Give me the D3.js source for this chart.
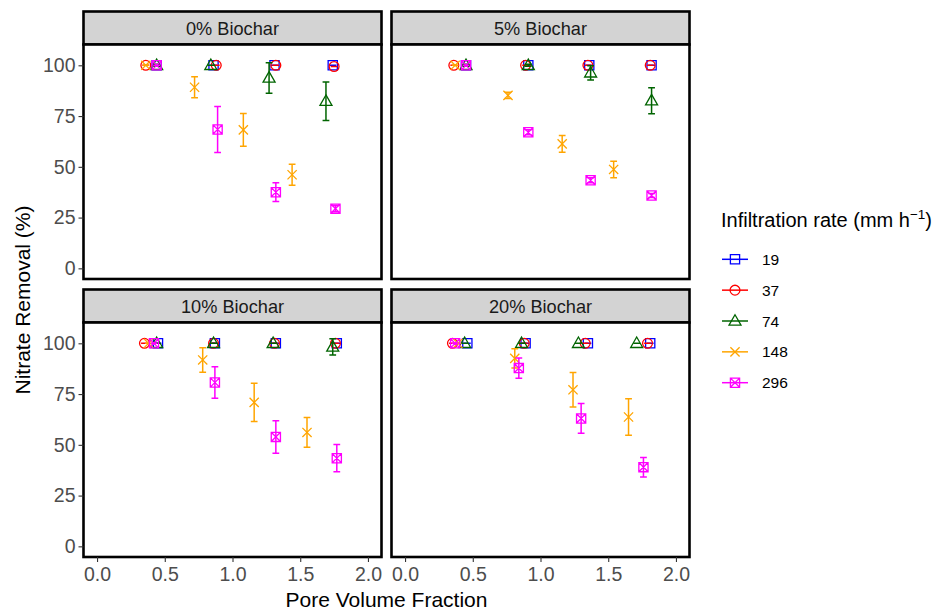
<!DOCTYPE html>
<html>
<head>
<meta charset="utf-8">
<script src="https://cdn.jsdelivr.net/npm/d3@7"></script>
<style>
  html, body { margin: 0; padding: 0; background: #fff; }
  svg { display: block; font-family: 'Liberation Sans', Arial, sans-serif; }
</style>
</head>
<body>
<div id="chart"></div>
<script>
const panels = ['0% Biochar', '5% Biochar', '10% Biochar', '20% Biochar'];
const rates = ['19', '37', '74', '148', '296'];
const xTicks = [0, 0.5, 1, 1.5, 2];
const yTicks = [0, 25, 50, 75, 100];

// pore volume fraction, per rate (19, 37, 74, 148, 296)
const pvf0 = [[0.44, 0.86, 1.31, 1.74], [0.36, 0.88, 1.32, 1.75], [0.44, 0.84, 1.27, 1.69], [0.36, 0.72, 1.08, 1.44], [0.44, 0.89, 1.32, 1.76]];
const rem0 = [[100, 100, 100, 100], [100, 100, 100, 99.4], [100, 100, 93.8, 82.3], [100, 89.2, 68.2, 46.1], [100, 68.4, 37.5, 29.4]];
const err0 = [[0, 0, 0, 0], [0, 0, 0, 0], [0.5, 0, 7.5, 9.5], [0, 5.2, 8.1, 5.2], [0, 11.3, 4.6, 1.5]];

const pvf5 = [[0.45, 0.91, 1.36, 1.82], [0.36, 0.89, 1.35, 1.81], [0.45, 0.91, 1.37, 1.82], [0.37, 0.76, 1.16, 1.54], [0.45, 0.91, 1.37, 1.82]];
const rem5 = [[100, 100, 100, 100], [100, 100, 100, 100], [100, 100, 96.3, 82.6], [100, 85.2, 61.3, 48.7], [100, 67.0, 43.4, 35.9]];
const err5 = [[0, 0, 0, 0], [0, 0, 0, 0], [0.5, 0.5, 3.5, 6.4], [0, 1.5, 4.1, 4.1], [0, 1.2, 1.2, 1.0]];

const pvf10 = [[0.45, 0.87, 1.32, 1.77], [0.35, 0.86, 1.31, 1.76], [0.44, 0.86, 1.30, 1.74], [0.38, 0.78, 1.16, 1.55], [0.42, 0.87, 1.32, 1.77]];
const rem10 = [[100, 100, 100, 100], [100, 100, 100, 100], [100, 100, 100, 98.2], [100, 91.8, 70.9, 56.1], [100, 80.7, 53.9, 43.4]];
const err10 = [[0, 0, 0, 0], [0, 0, 0, 0], [0, 0, 0, 4], [0, 6, 9.4, 7.3], [0, 7.8, 8, 6.7]];

const pvf20 = [[0.46, 0.89, 1.35, 1.81], [0.35, 0.88, 1.33, 1.79], [0.44, 0.86, 1.28, 1.71], [0.39, 0.81, 1.24, 1.65], [0.37, 0.84, 1.30, 1.76]];
const rem20 = [[100, 100, 100, 100], [100, 100, 100, 100], [100, 100, 100, 100], [100, 92.6, 77.1, 63.7], [100, 87.8, 63.0, 39.0]];
const err20 = [[0, 0, 0, 0], [0, 0, 0, 0], [0, 0, 0, 0], [0, 4.7, 8.5, 9], [0, 5, 7.3, 4.8]];

const colors = ['#0000FF', '#FF0000', '#006400', '#FFA500', '#FF00FF'];
const shapes = ['square', 'circle', 'triangle', 'cross', 'squarecross'];

const panelData = [[pvf0, rem0, err0], [pvf5, rem5, err5], [pvf10, rem10, err10], [pvf20, rem20, err20]];

const W = 933, H = 611;
const svg = d3.select('#chart').append('svg').attr('width', W).attr('height', H);

const colX = [83.5, 391.5];
const rowY = [11.5, 289.5];
const pw = 298, stripH = 33, ph = 234.5;

const x = d3.scaleLinear().domain([-0.1, 2.1]).range([0, pw]);
const y = d3.scaleLinear().domain([-5.25, 110.25]).range([ph, 0]);

function symbolPath(shape) {
  const s = 4.6;
  if (shape === 'square') return `M${-s},${-s}H${s}V${s}H${-s}Z`;
  if (shape === 'circle') return `M${s + 0.3},0A${s + 0.3},${s + 0.3} 0 1,1 ${-s - 0.3},0A${s + 0.3},${s + 0.3} 0 1,1 ${s + 0.3},0Z`;
  if (shape === 'triangle') { const t = 6; return `M0,${-t * 1.05}L${t},${t * 0.7}L${-t},${t * 0.7}Z`; }
  if (shape === 'cross') return `M${-s},${-s}L${s},${s}M${-s},${s}L${s},${-s}`;
  return `M${-s},${-s}H${s}V${s}H${-s}Z M${-s},${-s}L${s},${s}M${-s},${s}L${s},${-s}`;
}

panels.forEach((label, pi) => {
  const ox = colX[pi % 2], oy = rowY[Math.floor(pi / 2)];
  // strip
  svg.append('rect').attr('x', ox).attr('y', oy).attr('width', pw).attr('height', stripH)
    .attr('fill', '#D3D3D3').attr('stroke', '#000').attr('stroke-width', 2.6);
  svg.append('text').attr('x', ox + pw / 2).attr('y', oy + stripH / 2 + 6.5)
    .attr('text-anchor', 'middle').attr('font-size', '18.2px').attr('fill', '#1A1A1A').text(label);

  const g = svg.append('g').attr('transform', `translate(${ox},${oy + stripH})`);
  g.append('rect').attr('width', pw).attr('height', ph).attr('fill', '#fff');

  const [pvf, rem, err] = panelData[pi];
  rates.forEach((r, si) => {
    const pts = pvf[si].map((v, k) => ({ px: v, val: rem[si][k], e: err[si][k] }));
    const eb = g.append('g').attr('stroke', colors[si]).attr('stroke-width', 1.5).attr('fill', 'none');
    pts.forEach(d => {
      const cx = x(d.px), hw = x(0.025) - x(0);
      eb.append('path')
        .attr('d', `M${cx - hw},${y(d.val + d.e)}H${cx + hw}M${cx},${y(d.val + d.e)}V${y(d.val - d.e)}M${cx - hw},${y(d.val - d.e)}H${cx + hw}`);
    });
    g.append('g').selectAll('path').data(pts).enter().append('path')
      .attr('transform', d => `translate(${x(d.px)},${y(d.val)})`)
      .attr('d', symbolPath(shapes[si]))
      .attr('fill', 'none').attr('stroke', colors[si]).attr('stroke-width', 1.3);
  });

  g.append('rect').attr('width', pw).attr('height', ph)
    .attr('fill', 'none').attr('stroke', '#000').attr('stroke-width', 2.6);

  // y axis on left column
  if (pi % 2 === 0) {
    const ya = g.append('g').call(d3.axisLeft(y).tickValues(yTicks).tickSize(5).tickPadding(3));
    ya.select('.domain').remove();
    ya.selectAll('line').attr('stroke', '#333').attr('stroke-width', 1.1);
    ya.selectAll('text').attr('fill', '#4D4D4D').attr('font-size', '19.5px')
      .attr('font-family', "'Liberation Sans', Arial, sans-serif");
  }
  // x axis on bottom row
  if (pi >= 2) {
    const xa = g.append('g').attr('transform', `translate(0,${ph})`)
      .call(d3.axisBottom(x).tickValues(xTicks).tickFormat(d3.format('.1f')).tickSize(5).tickPadding(5));
    xa.select('.domain').remove();
    xa.selectAll('line').attr('stroke', '#333').attr('stroke-width', 1.1);
    xa.selectAll('text').attr('fill', '#4D4D4D').attr('font-size', '19.5px')
      .attr('font-family', "'Liberation Sans', Arial, sans-serif");
  }
});

// axis titles
svg.append('text').attr('x', colX[0] + (colX[1] + pw - colX[0]) / 2).attr('y', 607)
  .attr('text-anchor', 'middle').attr('font-size', '21px').attr('fill', '#000').text('Pore Volume Fraction');
svg.append('text').attr('transform', 'translate(30,300) rotate(-90)')
  .attr('text-anchor', 'middle').attr('font-size', '21px').attr('fill', '#000').text('Nitrate Removal (%)');

// legend
const lg = svg.append('g').attr('transform', 'translate(721,0)');
const lt = lg.append('text').attr('x', 0).attr('y', 227).attr('font-size', '20px').attr('fill', '#000');
lt.append('tspan').text('Infiltration rate (mm h');
lt.append('tspan').attr('dy', -8).attr('font-size', '13.5px').text('\u22121');
lt.append('tspan').attr('dy', 8).text(')');
const legendY = d3.scalePoint().domain(rates).range([259.3, 382.7]);
rates.forEach((r, si) => {
  const item = lg.append('g').attr('transform', `translate(0,${legendY(r)})`);
  item.append('line').attr('x1', 1).attr('x2', 27).attr('stroke', colors[si]).attr('stroke-width', 1.5);
  item.append('path').attr('transform', 'translate(14,0)').attr('d', symbolPath(shapes[si]))
    .attr('fill', 'none').attr('stroke', colors[si]).attr('stroke-width', 1.3);
  item.append('text').attr('x', 41).attr('y', 5.5).attr('font-size', '15.5px').attr('fill', '#000').text(r);
});
</script>
</body>
</html>
